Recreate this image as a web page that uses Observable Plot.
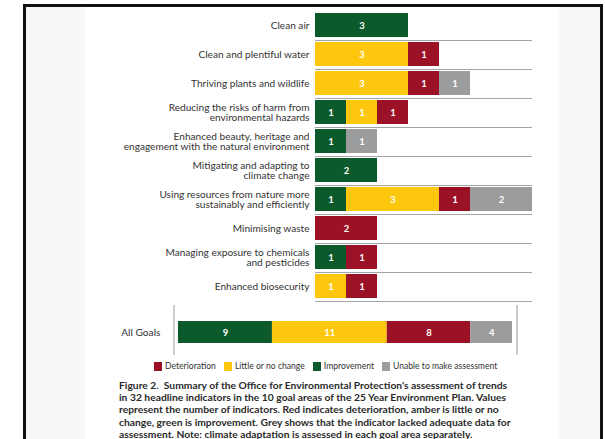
<!DOCTYPE html>
<html><head><meta charset="utf-8">
<script src="https://cdn.jsdelivr.net/npm/d3@7"></script>
<script src="https://cdn.jsdelivr.net/npm/@observablehq/plot@0.6"></script>
<style>
html,body{margin:0;padding:0;background:#fff;width:605px;height:439px;overflow:hidden;font-family:Lato,"Open Sans",sans-serif;}
#frame{position:absolute;left:23px;top:4px;width:574px;height:432px;border-left:3px solid #111;border-top:3px solid #111;border-right:3px solid #111;border-bottom:1px solid #999;overflow:hidden;}
#lp{position:absolute;left:26px;top:7px;width:59px;height:433px;background:#f8f8f8;}
#rp{position:absolute;left:559px;top:7px;width:41px;height:433px;background:#f8f8f8;}
.abs{position:absolute;left:0;top:0;}
#legend{position:absolute;left:154px;top:361px;display:flex;align-items:center;font-size:8.6px;color:#333;white-space:nowrap;}
#legend span.sw{display:inline-block;width:8px;height:9px;margin-right:3px;}
#legend span.it{display:flex;align-items:center;margin-right:8px;}
#caption{position:absolute;left:119px;top:379px;font-size:10.3px;line-height:12.2px;font-weight:700;color:#2a2a2a;white-space:pre;}
</style></head>
<body>
<div id="lp"></div><div id="rp"></div>
<div id="chart" class="abs"></div>
<div id="all" class="abs" style="top:305px"></div>
<div id="legend"></div>
<div id="caption"></div>
<div id="frame"></div>
<script>
const categories = [
  "Clean air",
  "Clean and plentiful water",
  "Thriving plants and wildlife",
  "Reducing the risks of harm from\nenvironmental hazards",
  "Enhanced beauty, heritage and\nengagement with the natural environment",
  "Mitigating and adapting to\nclimate change",
  "Using resources from nature more\nsustainably and efficiently",
  "Minimising waste",
  "Managing exposure to chemicals\nand pesticides",
  "Enhanced biosecurity"
];
const statuses = ["Improvement", "Little or no change", "Deterioration", "Unable to make assessment"];
const improvement   = [3, 0, 0, 1, 1, 2, 1, 0, 1, 0];
const littleChange  = [0, 3, 3, 1, 0, 0, 3, 0, 0, 1];
const deterioration = [0, 1, 1, 1, 0, 0, 1, 2, 1, 1];
const unable        = [0, 0, 1, 0, 1, 0, 2, 0, 0, 0];
const allGoalsLabel = "All Goals";
const allGoals = [9, 11, 8, 4];
const legendOrder = ["Deterioration", "Little or no change", "Improvement", "Unable to make assessment"];
const colors = ["#0c5a2b", "#fcc70d", "#9b1226", "#9b9c9e"];

const series = [improvement, littleChange, deterioration, unable];
const rows = [];
categories.forEach((c, i) => statuses.forEach((s, j) => {
  if (series[j][i] > 0) rows.push({cat: c, status: s, value: series[j][i]});
}));
const allRows = statuses.map((s, j) => ({cat: allGoalsLabel, status: s, value: allGoals[j]}));
const color = {domain: statuses, range: colors};

const chart = Plot.plot({
  width: 605, height: 305,
  style: {fontFamily: "Lato, 'Open Sans', sans-serif", background: "transparent"},
  x: {domain: [0, 7], range: [315, 532], axis: null},
  y: {domain: categories, range: [11, 300], paddingInner: 0.18, paddingOuter: 0, axis: null},
  color,
  marks: [
    Plot.rect(categories, {y: d => d, x1: 0, x2: 7, fill: "#a5a5a5", insetTop: 27, insetBottom: -4}),
    Plot.barX(rows, Plot.stackX({x: "value", y: "cat", fill: "status"})),
    Plot.text(rows, Plot.stackX({x: "value", y: "cat", text: "value", fill: "white", fontSize: 9.5, fontWeight: 700})),
    Plot.text(categories, {x: 0, y: d => d, text: d => d, dx: -6, textAnchor: "end", fill: "#333", fontSize: 10.1, lineHeight: 1.07})
  ]
});
document.getElementById("chart").appendChild(chart);

const all = Plot.plot({
  width: 605, height: 50,
  style: {fontFamily: "Lato, 'Open Sans', sans-serif", background: "transparent"},
  x: {domain: [0, 32], range: [178, 512], axis: null},
  y: {domain: [allGoalsLabel], range: [16, 38], padding: 0, axis: null},
  color,
  marks: [
    Plot.rect([allGoalsLabel], {y: d => d, x1: 0, x2: 32, fill: "white", stroke: "#999", strokeWidth: 1, insetLeft: -4, insetRight: -5, insetTop: -5, insetBottom: -4}),
    Plot.barX(allRows, Plot.stackX({x: "value", y: "cat", fill: "status"})),
    Plot.text(allRows, Plot.stackX({x: "value", y: "cat", text: "value", fill: "white", fontSize: 9.5, fontWeight: 700})),
    Plot.text([allGoalsLabel], {x: 0, y: d => d, text: d => d, dx: -18, textAnchor: "end", fill: "#333", fontSize: 10.2})
  ]
});
document.getElementById("all").appendChild(all);

const legend = document.getElementById("legend");
legendOrder.forEach(s => {
  const it = document.createElement("span"); it.className = "it";
  const sw = document.createElement("span"); sw.className = "sw";
  sw.style.background = colors[statuses.indexOf(s)];
  it.appendChild(sw); it.appendChild(document.createTextNode(s));
  legend.appendChild(it);
});

const captionLines = [
  "Figure 2.  Summary of the Office for Environmental Protection's assessment of trends",
  "in 32 headline indicators in the 10 goal areas of the 25 Year Environment Plan. Values",
  "represent the number of indicators. Red indicates deterioration, amber is little or no",
  "change, green is improvement. Grey shows that the indicator lacked adequate data for",
  "assessment. Note: climate adaptation is assessed in each goal area separately."
];
document.getElementById("caption").textContent = captionLines.join("\n");
</script>
</body></html>
